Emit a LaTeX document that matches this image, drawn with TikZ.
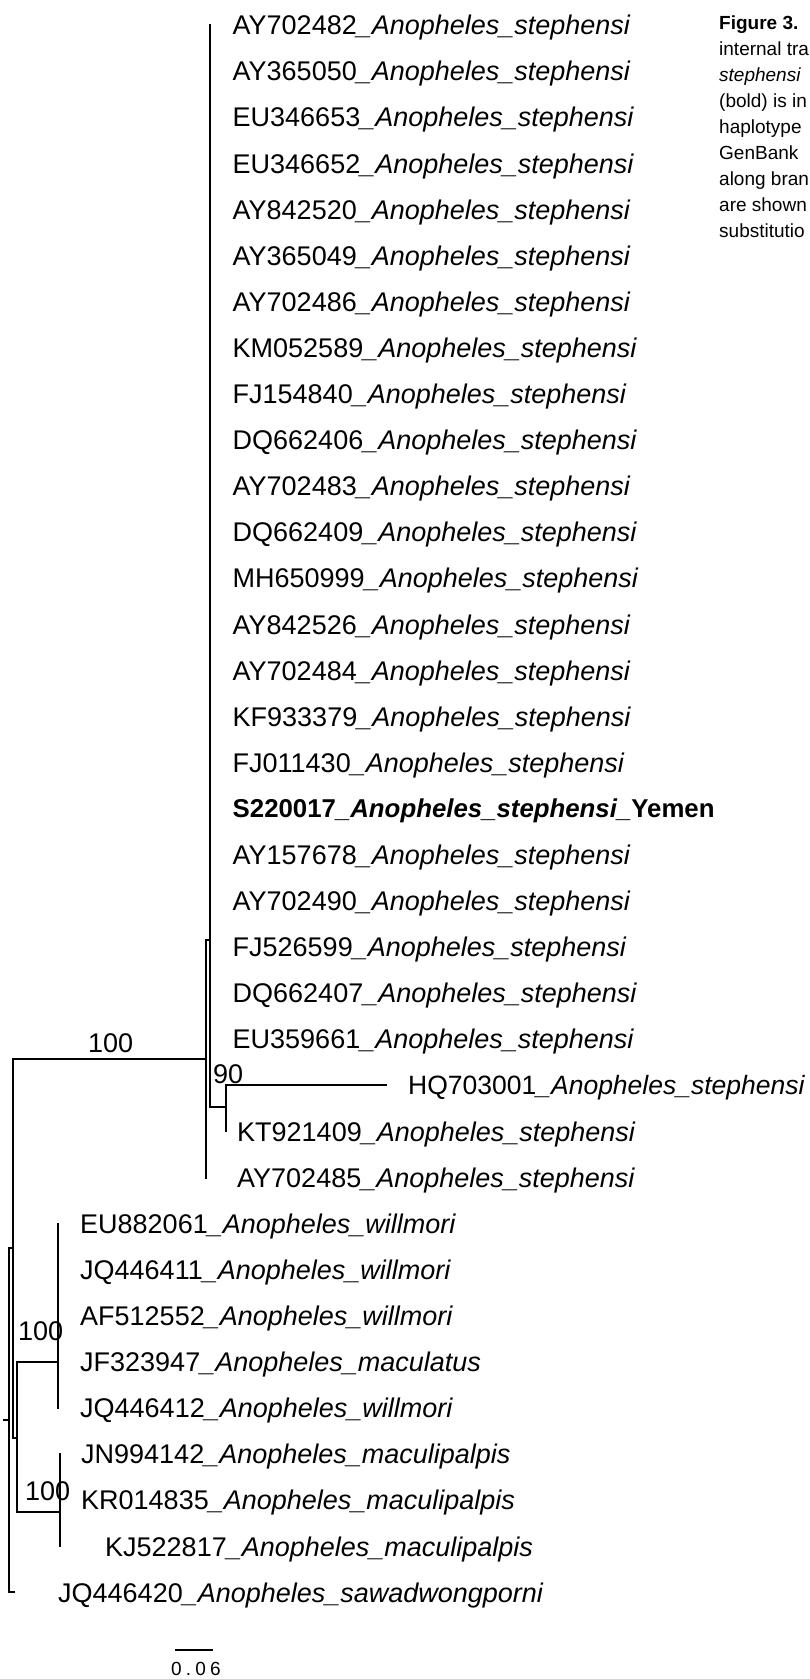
\documentclass[tikz,border=0pt]{standalone}
\usepackage{fontspec}
\setmainfont{Liberation Sans}
\begin{document}
\begin{tikzpicture}[x=1pt,y=-1pt,
  br/.style={line width=2pt, line cap=rect},
  lab/.style={anchor=base west, inner sep=0pt, font=\fontsize{27}{27}\selectfont},
  hqlab/.style={anchor=base west, inner sep=0pt, font=\fontsize{26.5}{26.5}\selectfont},
  boldlab/.style={anchor=base west, inner sep=0pt, font=\fontsize{25.8}{25.8}\selectfont\bfseries},
  boot/.style={anchor=base west, inner sep=0pt, font=\fontsize{27}{27}\selectfont},
  captxt/.style={anchor=base west, inner sep=0pt, font=\fontsize{19}{19}\selectfont},
  scalelab/.style={anchor=base, inner sep=0pt, font=\fontsize{19}{19}\selectfont\addfontfeatures{LetterSpace=22}}]
\useasboundingbox (0,0) rectangle (810,1679);
% leaf labels of the stephensi clade
\foreach \i/\acc in {1/AY702482, 2/AY365050, 3/EU346653, 4/EU346652, 5/AY842520,
  6/AY365049, 7/AY702486, 8/KM052589, 9/FJ154840, 10/DQ662406, 11/AY702483,
  12/DQ662409, 13/MH650999, 14/AY842526, 15/AY702484, 16/KF933379, 17/FJ011430,
  19/AY157678, 20/AY702490, 21/FJ526599, 22/DQ662407, 23/EU359661}
  \node[lab] (L\i) at (232.5, {25+(\i-1)*46.1+9.7}) {\acc\textit{\_Anopheles\_stephensi}};
\node[boldlab] (L18) at (232.5, {25+17*46.1+9.2}) {S220017\textit{\_Anopheles\_stephensi\_}Yemen};
\node[hqlab] (L24) at (408, {25+23*46.1+9.5}) {HQ703001\textit{\_Anopheles\_stephensi}};
\node[lab] (L25) at (237, {25+24*46.1+9.7}) {KT921409\textit{\_Anopheles\_stephensi}};
\node[lab] (L26) at (237, {25+25*46.1+9.7}) {AY702485\textit{\_Anopheles\_stephensi}};
% other species
\node[lab] (L27) at (80, {25+26*46.1+9.7}) {EU882061\textit{\_Anopheles\_willmori}};
\node[lab] (L28) at (80, {25+27*46.1+9.7}) {JQ446411\textit{\_Anopheles\_willmori}};
\node[lab] (L29) at (80, {25+28*46.1+9.7}) {AF512552\textit{\_Anopheles\_willmori}};
\node[lab] (L30) at (80, {25+29*46.1+9.7}) {JF323947\textit{\_Anopheles\_maculatus}};
\node[lab] (L31) at (80, {25+30*46.1+9.7}) {JQ446412\textit{\_Anopheles\_willmori}};
\node[lab] (L32) at (81, {25+31*46.1+9.7}) {JN994142\textit{\_Anopheles\_maculipalpis}};
\node[lab] (L33) at (81, {25+32*46.1+9.7}) {KR014835\textit{\_Anopheles\_maculipalpis}};
\node[lab] (L34) at (105, {25+33*46.1+9.7}) {KJ522817\textit{\_Anopheles\_maculipalpis}};
\node[lab] (L35) at (58, {25+34*46.1+9.7}) {JQ446420\textit{\_Anopheles\_sawadwongporni}};
% tree nodes
\coordinate (Btop) at (209.5,25);
\coordinate (Bbot) at (209.5,1107);
\coordinate (Cmid) at (226,1107);
\coordinate (Ctop) at (226,{25+23*46.1});
\coordinate (Cbot) at (226,{25+24*46.1});
\coordinate (HQend) at (386,{25+23*46.1});
\coordinate (Atop) at (205.5,940);
\coordinate (Bmid) at (209.5,940);
\coordinate (Abot) at (205.5,{25+25*46.1});
\coordinate (Amid) at (205.5,1059);
\coordinate (R2top) at (13,1059);
\coordinate (R2mid) at (13,1248);
\coordinate (R2bot) at (13,1437.5);
\coordinate (Dmid) at (16.5,1437.5);
\coordinate (Dtop) at (16.5,1362);
\coordinate (Dbot) at (16.5,1512);
\coordinate (Wmid) at (58,1362);
\coordinate (Wtop) at (58,{25+26*46.1});
\coordinate (Wbot) at (58,{25+30*46.1});
\coordinate (Mmid) at (60,1512);
\coordinate (Mtop) at (60,{25+31*46.1});
\coordinate (Mbot) at (60,{25+33*46.1});
\coordinate (Rtop) at (9,1248);
\coordinate (Rmid) at (9,1420);
\coordinate (Rbot) at (9,{25+34*46.1});
\coordinate (JQend) at (14,{25+34*46.1});
\coordinate (root) at (4,1420);
% branches
\draw[br] (Btop) -- (Bbot) -- (Cmid);
\draw[br] (Ctop) -- (Cbot);
\draw[br] (Ctop) -- (HQend);
\draw[br] (Atop) -- (Abot);
\draw[br] (Atop) -- (Bmid);
\draw[br] (R2top) -- (Amid);
\draw[br] (R2top) -- (R2bot) -- (Dmid);
\draw[br] (Dtop) -- (Dbot);
\draw[br] (Dtop) -- (Wmid);
\draw[br] (Wtop) -- (Wbot);
\draw[br] (Dbot) -- (Mmid);
\draw[br] (Mtop) -- (Mbot);
\draw[br] (R2mid) -- (Rtop);
\draw[br] (Rtop) -- (Rbot) -- (JQend);
\draw[br] (root) -- (Rmid);
% bootstrap values
\node[boot] (b1) at (88,1052) {100};
\node[boot] (b2) at (213,1083) {90};
\node[boot] (b3) at (18,1340) {100};
\node[boot] (b4) at (25,1500) {100};
% scale bar
\coordinate (s1) at (175,1650);
\coordinate (s2) at (213,1650);
\draw[line width=1.6pt] (s1) -- (s2);
\node[scalelab] (sl) at (196,1675) {0.06};
% caption (cut at right edge)
\node[captxt] (c1) at (719,29) {\textbf{Figure 3.}};
\node[captxt] (c2) at (719,55) {internal tra};
\node[captxt] (c3) at (719,81) {\textit{stephensi}};
\node[captxt] (c4) at (719,107) {(bold) is in};
\node[captxt] (c5) at (719,133) {haplotype};
\node[captxt] (c6) at (719,159) {GenBank};
\node[captxt] (c7) at (719,185) {along bran};
\node[captxt] (c8) at (719,211) {are shown};
\node[captxt] (c9) at (719,237) {substitutio};
\end{tikzpicture}
\end{document}
